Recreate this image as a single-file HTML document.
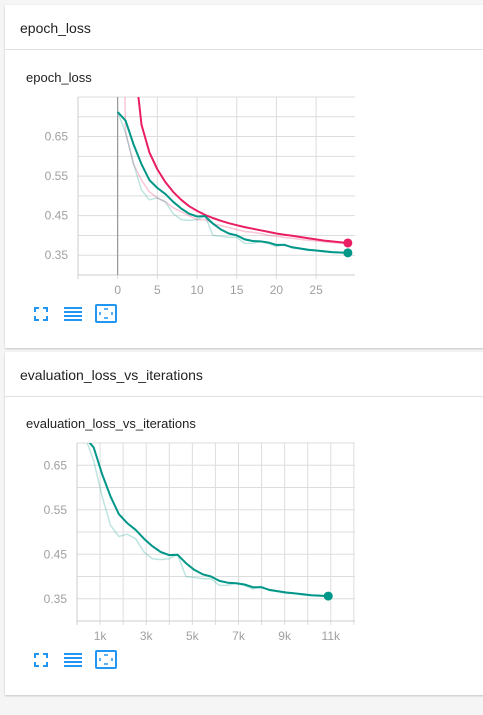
<!DOCTYPE html>
<html><head><meta charset="utf-8"><style>
body{margin:0;width:483px;height:715px;background:#f5f5f5;font-family:"Liberation Sans",sans-serif;overflow:hidden;position:relative}
.card{position:absolute;left:5px;width:490px;background:#fff;box-shadow:0 1px 2px rgba(0,0,0,.2)}
.hdr{height:44px;border-bottom:1px solid #e0e0e0;font-size:14px;color:#212121;line-height:46px;padding-left:15px}
svg{position:absolute;left:0;top:0}
</style></head><body>
<div class="card" style="top:5px;height:343px"><div class="hdr">epoch_loss</div></div>
<div class="card" style="top:352px;height:343px"><div class="hdr">evaluation_loss_vs_iterations</div></div>
<svg id="s" width="483" height="715"></svg>
<script>
const epochs=[0,1,2,3,4,5,6,7,8,9,10,11,12,13,14,15,16,17,18,19,20,21,22,23,24,25,26,27,28,29];
const greenSmooth=[0.712,0.69,0.63,0.58,0.54,0.52,0.505,0.485,0.468,0.455,0.448,0.449,0.43,0.415,0.405,0.40,0.39,0.386,0.385,0.382,0.376,0.376,0.37,0.367,0.364,0.362,0.36,0.358,0.357,0.356];
const greenRaw=[0.712,0.66,0.58,0.515,0.49,0.495,0.485,0.455,0.44,0.438,0.44,0.45,0.40,0.398,0.395,0.395,0.38,0.38,0.385,0.38,0.372,0.378,0.368,0.366,0.362,0.362,0.358,0.357,0.356,0.355];
const pinkSmooth=[1.6,1.1,0.86,0.68,0.61,0.567,0.535,0.51,0.49,0.474,0.462,0.452,0.444,0.437,0.431,0.426,0.421,0.417,0.413,0.409,0.405,0.402,0.399,0.396,0.393,0.39,0.387,0.385,0.383,0.381];
const pinkRaw=[1.6,0.66,0.58,0.54,0.51,0.495,0.485,0.47,0.46,0.45,0.44,0.44,0.43,0.425,0.42,0.415,0.41,0.408,0.405,0.40,0.398,0.395,0.393,0.39,0.388,0.386,0.384,0.382,0.381,0.38];
const iterations=[363,726,1089,1452,1815,2178,2541,2904,3267,3630,3993,4356,4719,5082,5445,5808,6171,6534,6897,7260,7623,7986,8349,8712,9075,9438,9801,10164,10527,10890];
const yTicks=[0.35,0.45,0.55,0.65];
const xTicks1=[0,5,10,15,20,25];
const xTicks2=[1000,3000,5000,7000,9000,11000];
const xTickLabels2=["1k","3k","5k","7k","9k","11k"];
const NS="http://www.w3.org/2000/svg",S=document.getElementById('s');
function el(t,a,p){const e=document.createElementNS(NS,t);for(const k in a)e.setAttribute(k,a[k]);(p||S).appendChild(e);return e;}
function chart(o){
 const g=el('g',{});
 
 
 const X=v=>o.L+(v-o.x0)/(o.x1-o.x0)*(o.R-o.L), Y=v=>o.B-(v-o.y0)/(o.y1-o.y0)*(o.B-o.T);
 const cp=el('clipPath',{id:o.name+'c'},g);el('rect',{x:o.L,y:o.T,width:o.R-o.L,height:o.B-o.T},cp);
 const t=el('text',{x:26,y:o.T-15,'font-size':13,fill:'#212121'},g);t.textContent=o.title;
 
 for(let v=o.y0;v<=o.y1+1e-9;v+=0.05)el('line',{x1:o.L,x2:o.R,y1:Y(v),y2:Y(v),stroke:'#ddd'},g);
 for(let v=o.gx0;v<=o.x1+1e-9;v+=o.gstep)el('line',{x1:X(v),x2:X(v),y1:o.T,y2:o.B+4,stroke:'#ddd'},g);
 el('line',{x1:o.L,x2:o.L,y1:o.T,y2:o.B+4,stroke:'#ccc'},g);
 el('line',{x1:o.L,x2:o.R,y1:o.B,y2:o.B,stroke:'#ccc'},g);
 if(o.zero)el('line',{x1:X(0),x2:X(0),y1:o.T,y2:o.B,stroke:'#888'},g);
 yTicks.forEach(v=>{const e=el('text',{x:o.L-10,y:Y(v)+4,'font-size':12,fill:'#a0a0a0','text-anchor':'end'},g);e.textContent=v.toFixed(2);
  });
 o.xt.forEach((v,i)=>{const e=el('text',{x:X(v),y:o.B+19,'font-size':12,fill:'#a0a0a0','text-anchor':'middle'},g);e.textContent=o.xl[i];
  });
 const cg=el('g',{'clip-path':`url(#${o.name}c)`},g);
 o.series.forEach(s=>{const d=s.y.map((v,i)=>(i?'L':'M')+X(s.x[i]).toFixed(1)+','+Y(v).toFixed(1)).join('');
  const p=el('path',{d,fill:'none',stroke:s.c,'stroke-width':s.w,opacity:s.op||1,'stroke-linejoin':'round'},cg);
  
  if(s.dot){const c=el('circle',{cx:X(s.x[s.x.length-1]),cy:Y(s.y[s.y.length-1]),r:4.5,fill:s.c},g);
   }});
 const iy=o.B+33;const ig=el('g',{fill:'none',stroke:'#2196f3','stroke-width':2},g);
 
 el('path',{d:`M35 ${iy+4}v-4h4M43 ${iy}h4v4M47 ${iy+8}v4h-4M39 ${iy+12}h-4v-4`},ig);
 for(let k=0;k<4;k++)el('line',{x1:64,x2:82,y1:iy+k*4,y2:iy+k*4},ig);
 el('rect',{x:96,y:iy-3,width:20,height:17,rx:1},ig);
 el('path',{d:`M104 ${iy+1}h4M104 ${iy+10}h4M100 ${iy+4}v3M112 ${iy+4}v3`,'stroke-width':1.5},ig);
}
chart({name:'epoch-loss-chart',title:'epoch_loss',L:78,R:355,T:97,B:275,x0:-5,x1:29.9,y0:0.30,y1:0.75,gx0:-5,gstep:5,zero:true,xt:xTicks1,xl:xTicks1.map(String),
 series:[{x:epochs,y:pinkRaw,c:'#e91e63',w:1.5,op:0.25,n:'pink-raw-line'},{x:epochs,y:greenRaw,c:'#009688',w:1.5,op:0.25,n:'green-raw-line'},
 {x:epochs,y:pinkSmooth,c:'#e91e63',w:2,dot:true,n:'pink-smoothed-line'},{x:epochs,y:greenSmooth,c:'#009688',w:2,dot:true,n:'green-smoothed-line'}]});
chart({name:'evaluation-loss-chart',title:'evaluation_loss_vs_iterations',L:77,R:355,T:443,B:621,x0:0,x1:12050,y0:0.30,y1:0.70,gx0:0,gstep:1000,zero:false,xt:xTicks2,xl:xTickLabels2,
 series:[{x:iterations,y:greenRaw,c:'#009688',w:1.5,op:0.25,n:'eval-raw-line'},{x:iterations,y:greenSmooth,c:'#009688',w:2,dot:true,n:'eval-smoothed-line'}]});
</script>
</body></html>
